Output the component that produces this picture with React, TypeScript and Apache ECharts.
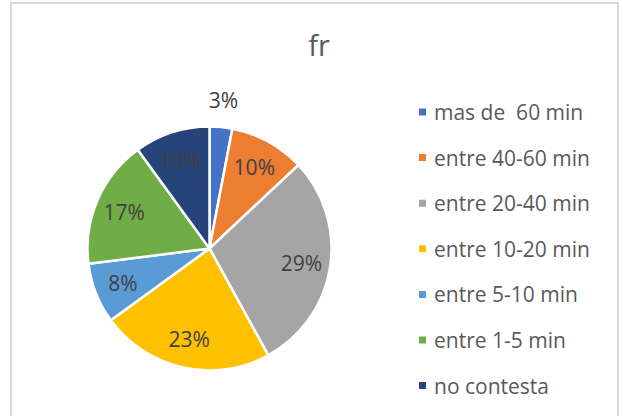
import React, { useEffect, useRef } from "react";
import * as echarts from "echarts";

const titleText = "fr";
const categories = [
  "mas de  60 min",
  "entre 40-60 min",
  "entre 20-40 min",
  "entre 10-20 min",
  "entre 5-10 min",
  "entre 1-5 min",
  "no contesta",
];
const values = [3, 10, 29, 23, 8, 17, 10];
const colors = ["#4472C4", "#ED7D31", "#A5A5A5", "#FFC000", "#5B9BD5", "#70AD47", "#264478"];
const outsideLabelIdx = [0];

const FONT = "'Open Sans', 'Liberation Sans', sans-serif";

export default function App() {
  const ref = useRef<HTMLDivElement>(null);
  useEffect(() => {
    if (!ref.current) return;
    const chart = echarts.init(ref.current, undefined, { renderer: "svg" });
    const total = values.reduce((a, b) => a + b, 0);
    const fmt = (p: any) => Math.round((p.value / total) * 100) + "%";
    const labelStyle = { color: "#404040", fontSize: 21, fontFamily: FONT };
    const center = [209.5, 248.5];

    const mainData = categories.map((n, i) => ({
      name: n,
      value: values[i],
      itemStyle: { color: colors[i] },
    }));
    const innerLabelData = categories.map((n, i) => ({
      name: n,
      value: values[i],
      label: { show: !outsideLabelIdx.includes(i) },
    }));
    const outerLabelData = categories.map((n, i) => ({
      name: n,
      value: values[i],
      label: { show: outsideLabelIdx.includes(i) },
    }));

    const labelSeriesBase = {
      type: "pie",
      center,
      startAngle: 90,
      silent: true,
      itemStyle: { color: "rgba(0,0,0,0)", borderWidth: 0 },
      labelLine: { show: false },
      emphasis: { disabled: true },
      label: { position: "inside", formatter: fmt, ...labelStyle },
    };

    chart.setOption({
      animation: false,
      backgroundColor: "#ffffff",
      graphic: [
        {
          type: "rect",
          shape: { x: 11, y: 3, width: 607, height: 430 },
          style: { fill: "none", stroke: "#d9d9d9", lineWidth: 2 },
          silent: true,
        },
      ],
      title: {
        text: titleText,
        left: 314,
        textAlign: "center",
        top: 25,
        textStyle: { color: "#595959", fontSize: 29, fontWeight: "normal", fontFamily: FONT },
      },
      legend: {
        orient: "vertical",
        left: 417,
        top: 101,
        padding: 0,
        data: categories,
        icon: "rect",
        itemWidth: 9,
        itemHeight: 9,
        itemGap: 23.6,
        selectedMode: false,
        textStyle: { color: "#595959", fontSize: 21, fontFamily: FONT, lineHeight: 22, padding: [0, 0, 0, 2] },
      },
      series: [
        {
          type: "pie",
          center,
          radius: [0, 122],
          startAngle: 90,
          data: mainData,
          label: { show: false },
          labelLine: { show: false },
          itemStyle: { borderColor: "#ffffff", borderWidth: 2.5 },
          emphasis: { disabled: true },
        },
        { ...labelSeriesBase, radius: [58, 122], data: innerLabelData },
        { ...labelSeriesBase, radius: [122, 170], data: outerLabelData },
      ],
    });
    return () => chart.dispose();
  }, []);
  return (
    <div
      ref={ref}
      style={{ position: "fixed", left: 0, top: 0, width: 623, height: 416 }}
    />
  );
}
